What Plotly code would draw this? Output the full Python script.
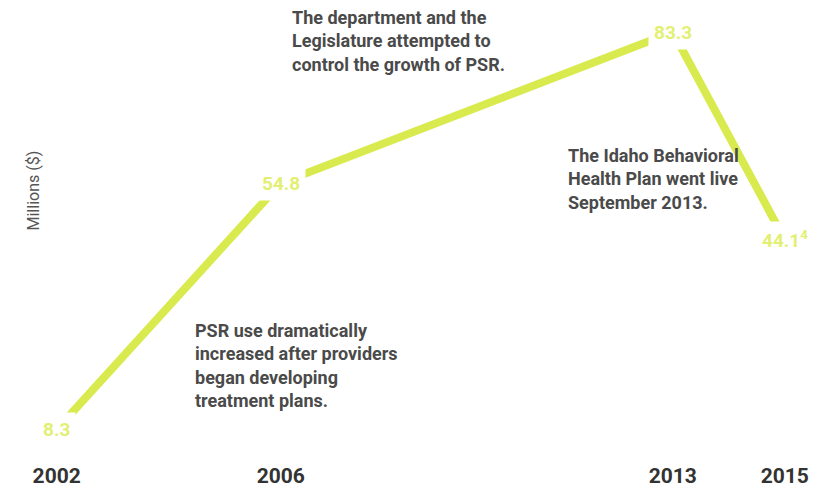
import plotly.graph_objects as go

years = [2002, 2006, 2013, 2015]
values = [8.3, 54.8, 83.3, 44.1]
value_labels = ["8.3", "54.8", "83.3", "44.1<sup>4</sup>"]
tick_labels = ["2002", "2006", "2013", "2015"]
y_title = "Millions ($)"
notes = [
    "The department and the<br>Legislature attempted to<br>control the growth of PSR.",
    "The Idaho Behavioral<br>Health Plan went live<br>September 2013.",
    "PSR use dramatically<br>increased after providers<br>began developing<br>treatment plans.",
]

LINE = "#d9ea4f"
LABEL = "#e3ef72"
TEXT = "#4a4a4a"
FONT = "Roboto, Arial, sans-serif"

W, H = 815, 491
PB = 30
ph = H - PB

fig = go.Figure()
fig.add_trace(go.Scatter(
    x=years, y=values, mode="lines",
    line=dict(color=LINE, width=8),
    hoverinfo="skip", showlegend=False,
))

for x, y, t in zip(years, values, value_labels):
    fig.add_annotation(
        x=x, y=y, xref="x", yref="y", text=t, showarrow=False,
        font=dict(family=FONT, size=19, color=LABEL, weight="bold"),
        bgcolor="white", borderpad=5,
    )

note_pos = [(290, 5), (566, 143), (193, 318)]
for (px, py), t in zip(note_pos, notes):
    fig.add_annotation(x=px / W, y=1 - py / ph, xref="paper", yref="paper", text=t,
                       showarrow=False, xanchor="left", yanchor="top", align="left",
                       font=dict(family=FONT, size=18, color=TEXT, weight="bold"))

fig.add_annotation(x=22 / W, y=1 - 191 / ph, xref="paper", yref="paper",
                   text=y_title, textangle=-90, showarrow=False,
                   font=dict(family=FONT, size=16, color="#555555"))

fig.update_layout(
    width=W, height=H,
    margin=dict(l=0, r=0, t=0, b=PB),
    paper_bgcolor="white", plot_bgcolor="white",
    xaxis=dict(range=[2000.988, 2015.539], tickvals=years, ticktext=tick_labels,
               showgrid=False, zeroline=False, showline=False, ticks="",
               tickfont=dict(family=FONT, size=21, color="#333333", weight="bold")),
    yaxis=dict(range=[2.36, 89.34], showgrid=False, zeroline=False,
               showline=False, showticklabels=False, ticks=""),
)

fig.write_html("out.html")
